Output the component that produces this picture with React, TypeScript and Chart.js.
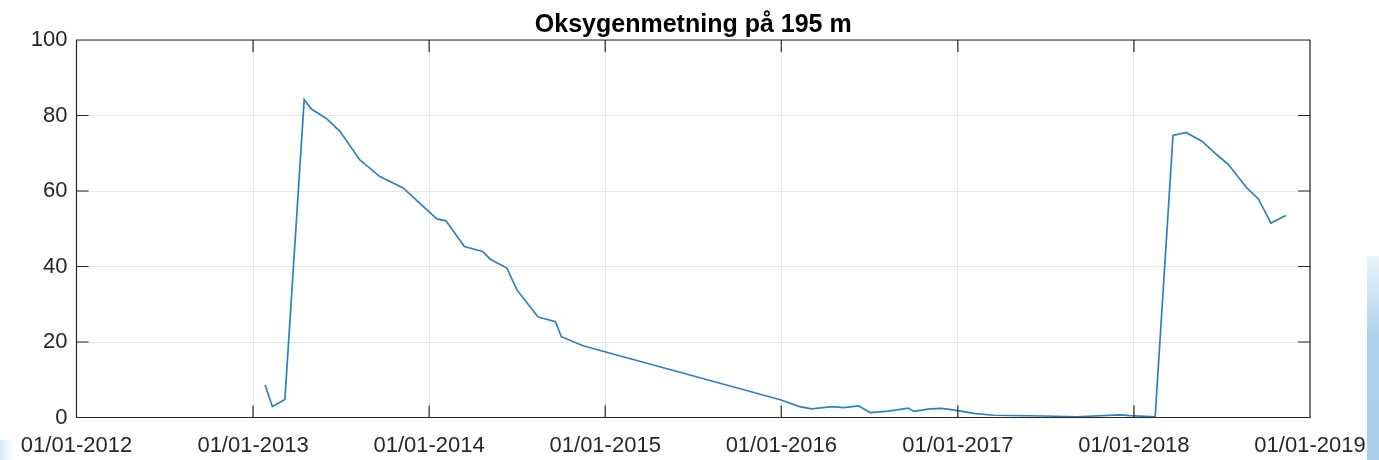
import React, { useEffect, useRef } from "react";
import { Chart, registerables } from "chart.js";

Chart.register(...registerables);

const chartTitle = "Oksygenmetning på 195 m";
const yearTicks = [2012, 2013, 2014, 2015, 2016, 2017, 2018, 2019];
const yTicks = [0, 20, 40, 60, 80, 100];

const sampleDates = [
  "2013-01-26", "2013-02-10", "2013-03-08", "2013-04-17", "2013-05-02",
  "2013-06-03", "2013-06-30", "2013-08-10", "2013-09-20", "2013-11-08",
  "2014-01-17", "2014-02-05", "2014-03-15", "2014-04-22", "2014-05-07",
  "2014-06-11", "2014-07-02", "2014-08-15", "2014-09-20", "2014-10-02",
  "2014-11-16", "2015-12-30", "2016-02-08", "2016-03-04", "2016-04-15",
  "2016-05-09", "2016-06-09", "2016-07-03", "2016-08-10", "2016-09-20",
  "2016-10-02", "2016-11-04", "2016-11-28", "2016-12-22", "2017-02-03",
  "2017-03-16", "2017-06-28", "2017-09-05", "2017-12-03", "2017-12-24",
  "2018-02-14", "2018-03-23", "2018-04-19", "2018-05-22", "2018-06-22",
  "2018-07-16", "2018-08-23", "2018-09-16", "2018-10-12", "2018-11-12",
];

const oxygenSaturation = [
  8.6, 2.9, 4.8, 84.2, 81.7,
  79.1, 75.8, 68.3, 63.9, 60.8,
  52.6, 52.1, 45.3, 44.0, 42.0,
  39.6, 33.8, 26.6, 25.4, 21.4,
  19.0, 4.7, 2.9, 2.3, 2.9,
  2.6, 3.1, 1.3, 1.7, 2.5,
  1.6, 2.3, 2.4, 2.0, 1.1,
  0.6, 0.4, 0.2, 0.7, 0.5,
  0.2, 74.7, 75.5, 73.2, 69.6,
  67.0, 60.8, 57.9, 51.5, 53.5,
];

const FONT = "'Liberation Sans', Arial, Helvetica, sans-serif";
const AXIS_COLOR = "#262626";

const titlePlugin = {
  id: "axesTitle",
  afterDraw(chart: any) {
    const { ctx, chartArea } = chart;
    ctx.save();
    ctx.fillStyle = "#000";
    ctx.font = "bold 25px " + FONT;
    ctx.textAlign = "center";
    ctx.textBaseline = "alphabetic";
    ctx.fillText(chartTitle, (chartArea.left + chartArea.right) / 2, 32);
    ctx.restore();
  },
};

const framePlugin = {
  id: "matlabFrame",
  afterDraw(chart: any) {
    const { ctx, chartArea } = chart;
    const { left, right, top, bottom } = chartArea;
    const xs = chart.scales.x;
    const ys = chart.scales.y;
    const len = 12;
    ctx.save();
    ctx.strokeStyle = AXIS_COLOR;
    ctx.lineWidth = 1.2;
    ctx.beginPath();
    ctx.rect(left, top, right - left, bottom - top);
    xs.ticks.forEach((t: any) => {
      const px = xs.getPixelForValue(t.value);
      ctx.moveTo(px, bottom);
      ctx.lineTo(px, bottom - len);
      ctx.moveTo(px, top);
      ctx.lineTo(px, top + len);
    });
    ys.ticks.forEach((t: any) => {
      const py = ys.getPixelForValue(t.value);
      ctx.moveTo(left, py);
      ctx.lineTo(left + len, py);
      ctx.moveTo(right, py);
      ctx.lineTo(right - len, py);
    });
    ctx.stroke();
    ctx.restore();
  },
};

export default function App() {
  const canvasRef = useRef<HTMLCanvasElement | null>(null);

  useEffect(() => {
    document.body.style.margin = "0";
    const canvas = canvasRef.current;
    if (!canvas) return;
    const points = sampleDates.map((d, i) => ({ x: Date.parse(d), y: oxygenSaturation[i] }));
    const chart = new Chart(canvas, {
      type: "line",
      data: {
        datasets: [
          {
            data: points,
            borderColor: "#2a82c6",
            borderWidth: 1.7,
            pointRadius: 0,
            tension: 0,
            fill: false,
          },
        ],
      },
      options: {
        animation: false,
        responsive: false,
        maintainAspectRatio: false,
        layout: { padding: { left: 0, right: 69, top: 40, bottom: 0 } },
        plugins: {
          legend: { display: false },
          tooltip: { enabled: false },
          title: { display: false },
        },
        scales: {
          x: {
            type: "linear",
            min: Date.UTC(yearTicks[0], 0, 1),
            max: Date.UTC(yearTicks[yearTicks.length - 1], 0, 1),
            afterBuildTicks: (scale: any) => {
              scale.ticks = yearTicks.map((y) => ({ value: Date.UTC(y, 0, 1) }));
            },
            afterFit: (scale: any) => {
              scale.height = 42.5;
              scale.paddingLeft = 0;
              scale.paddingRight = 0;
            },
            grid: { color: "#e6e6e6", lineWidth: 1, drawTicks: false },
            border: { display: false },
            ticks: {
              autoSkip: false,
              maxRotation: 0,
              padding: 15,
              color: AXIS_COLOR,
              font: { family: FONT, size: 22 },
              callback: (v: any) => "01/01-" + new Date(Number(v)).getUTCFullYear(),
            },
          },
          y: {
            min: 0,
            max: 100,
            afterBuildTicks: (scale: any) => {
              scale.ticks = yTicks.map((v) => ({ value: v }));
            },
            afterFit: (scale: any) => {
              scale.width = 76.5;
            },
            grid: { color: "#e6e6e6", lineWidth: 1, drawTicks: false },
            border: { display: false },
            ticks: {
              padding: 9,
              color: AXIS_COLOR,
              font: { family: FONT, size: 22 },
            },
          },
        },
      },
      plugins: [framePlugin, titlePlugin],
    });
    return () => chart.destroy();
  }, []);

  return (
    <div style={{ position: "absolute", left: 0, top: 0, width: 1379, height: 460, background: "#fff", overflow: "hidden" }}>
      <canvas ref={canvasRef} width={1379} height={460} style={{ display: "block" }} />
      <div
        style={{
          position: "absolute",
          left: 1367,
          top: 256,
          width: 12,
          height: 204,
          background: "linear-gradient(to bottom, rgba(190,220,245,0.3), #acd2f0 40%, #a9d0ef)",
        }}
      />
      <div
        style={{
          position: "absolute",
          left: 0,
          top: 440,
          width: 14,
          height: 20,
          background: "linear-gradient(to right, #dcebf8, rgba(220,235,248,0))",
        }}
      />
    </div>
  );
}
